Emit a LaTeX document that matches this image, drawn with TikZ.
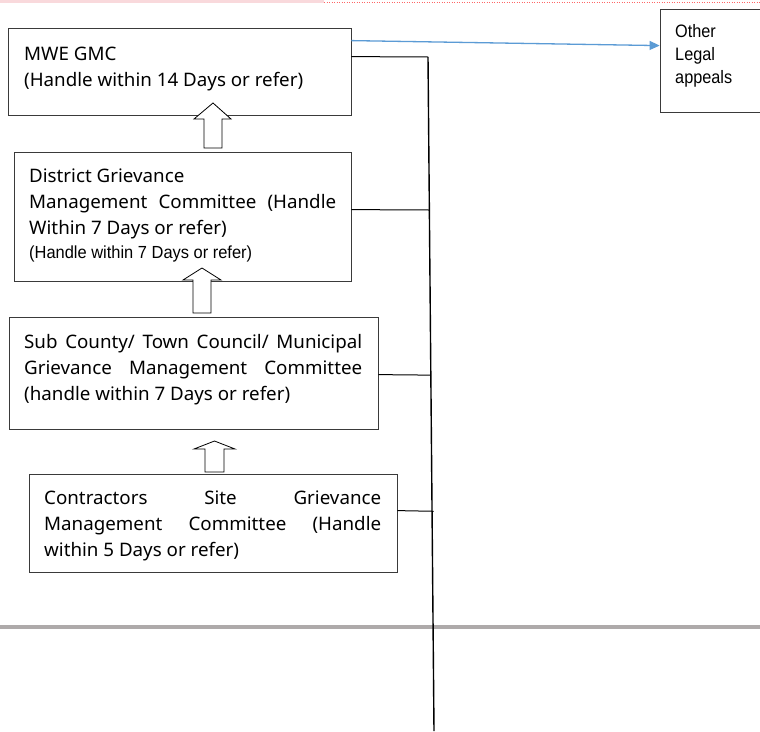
\documentclass[tikz,border=0pt]{standalone}
\usepackage{fontspec}
\setmainfont{Noto Sans}
\newfontfamily\arialplain{Liberation Sans}
\usetikzlibrary{arrows.meta,calc}
\definecolor{bluearr}{HTML}{5B9BD5}
\definecolor{pinkbar}{HTML}{F9D9DC}
\definecolor{graybar}{HTML}{AEAAAA}
\definecolor{boxline}{HTML}{3A3A3A}
\newlength\mylen
\begin{document}
\settowidth\mylen{\fontsize{18.6pt}{22pt}\selectfont (Handle within 14 Days or refer)}%
\pgfmathsetmacro\stA{279/\mylen}%
\settowidth\mylen{\arialplain\fontsize{17.5pt}{20pt}\selectfont (Handle within 7 Days or refer)}%
\pgfmathsetmacro\stB{223/\mylen}%
\settowidth\mylen{\arialplain\fontsize{18pt}{20pt}\selectfont appeals}%
\pgfmathsetmacro\stC{57/\mylen}%
\newfontfamily\segf[FakeStretch=\stA]{Noto Sans}%
\newfontfamily\arialB[FakeStretch=\stB]{Liberation Sans}%
\newfontfamily\arialC[FakeStretch=\stC]{Liberation Sans}%
\begin{tikzpicture}[x=1pt,y=-1pt,
  box/.style={draw=boxline, line width=0.8pt, rectangle, inner sep=0pt, fill=white},
  txt/.style={anchor=base west, inner sep=0pt, font=\segf\fontsize{18.6pt}{26pt}\selectfont},
  atxt/.style={anchor=base west, inner sep=0pt, font=\arialB\fontsize{17.5pt}{20pt}\selectfont},
  otxt/.style={anchor=base west, inner sep=0pt, font=\arialC\fontsize{18pt}{20pt}\selectfont},
  hollow/.style={draw=black, line width=0.8pt, fill=white, line join=miter},
  conn/.style={draw=black, line width=1pt},
  spine/.style={draw=black, line width=1.4pt}]
\useasboundingbox (0,0) rectangle (760,731);
\clip (0,0) rectangle (760,731);
\fill[white] (0,0) rectangle (760,731);
% top decoration
\fill[pinkbar] (0,0) rectangle (324,3);
\draw[red!60, line width=0.5pt, dotted] (324,2) -- (760,2);
% gray bar
\fill[graybar] (0,624.5) rectangle (760,629);
% boxes
\node[box, minimum width=343pt, minimum height=87pt] (mwe) at (179.5,71.5) {};
\node[box, minimum width=337pt, minimum height=129pt] (dist) at (182.5,216.5) {};
\node[box, minimum width=369pt, minimum height=112pt] (sub) at (193.5,373) {};
\node[box, minimum width=368pt, minimum height=98pt] (con) at (213,523) {};
\node[box, minimum width=105pt, minimum height=103pt] (other) at (712.5,60.5) {};
% texts
\node[txt] (m1) at (24,60) {MWE GMC};
\node[txt] (m2) at (24,86) {(Handle within 14 Days or refer)};
\node[txt] (d1) at (29,182) {District Grievance};
\node[txt] (d2) at (29,208) {\makebox[307pt][s]{Management Committee (Handle}};
\node[txt] (d3) at (29,234) {Within 7 Days or refer)};
\node[atxt] (d4) at (29,258) {(Handle within 7 Days or refer)};
\node[txt] (s1) at (24,348) {\makebox[338pt][s]{Sub County/ Town Council/ Municipal}};
\node[txt] (s2) at (24,374) {\makebox[338pt][s]{Grievance Management Committee}};
\node[txt] (s3) at (24,400) {(handle within 7 Days or refer)};
\node[txt] (c1) at (44,504) {\makebox[337pt][s]{Contractors Site Grievance}};
\node[txt] (c2) at (44,530) {\makebox[337pt][s]{Management Committee (Handle}};
\node[txt] (c3) at (44,556) {within 5 Days or refer)};
\node[otxt] (o1) at (675,37) {Other};
\node[otxt] (o2) at (675,60) {Legal};
\node[otxt] (o3) at (675,83) {appeals};
% hollow upward arrows
\draw[hollow] (204,148) -- (204,119) -- (194,119) -- (213,103) -- (231,119) -- (222,119) -- (222,148) -- cycle;
\draw[hollow] (193,313) -- (193,280) -- (183,280) -- (202,268) -- (221,280) -- (211,280) -- (211,313) -- cycle;
\draw[hollow] (205,472) -- (205,449) -- (194,449) -- (214.5,441) -- (235,449) -- (224,449) -- (224,472) -- cycle;
% spine and connectors
\coordinate (sTop) at (428,57);
\coordinate (sBot) at (434,731);
\draw[spine] (sTop) -- (sBot);
\draw[conn] ($(mwe.north east)+(0,29)$) -- (sTop);
\draw[conn] ($(dist.north east)+(0,58)$) -- ($(sTop)!0.227!(sBot)$);
\draw[conn] ($(sub.north east)+(0,58)$) -- ($(sTop)!0.472!(sBot)$);
\draw[conn] ($(con.north east)+(0,37)$) -- ($($(sTop)!0.674!(sBot)$)+(1.5,0)$);
% blue arrow
\draw[bluearr, line width=1.3pt, -{Triangle[length=10pt,width=9pt]}] ($(mwe.north east)+(0,13)$) -- ($(other.north west)+(0,37)$);
\end{tikzpicture}
\end{document}
